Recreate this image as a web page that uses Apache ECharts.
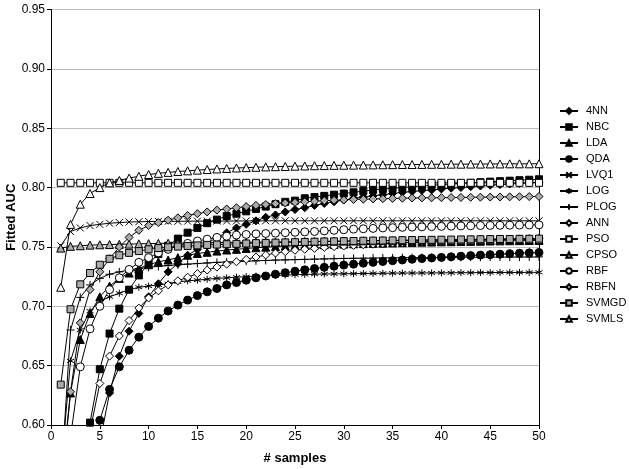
<!DOCTYPE html>
<html>
<head>
<meta charset="utf-8">
<script src="https://cdn.jsdelivr.net/npm/echarts@6/dist/echarts.min.js"></script>
<style>html,body{margin:0;padding:0;background:#fff;}#c{width:629px;height:469px;}</style>
</head>
<body>
<div id="c"></div>
<script>
var samples = [1,2,3,4,5,6,7,8,9,10,11,12,13,14,15,16,17,18,19,20,21,22,23,24,25,26,27,28,29,30,31,32,33,34,35,36,37,38,39,40,41,42,43,44,45,46,47,48,49,50];
var xTicks = [0,5,10,15,20,25,30,35,40,45,50];
var yTicks = [0.60,0.65,0.70,0.75,0.80,0.85,0.90,0.95];
var seriesNames = ['4NN','NBC','LDA','QDA','LVQ1','LOG','PLOG','ANN','PSO','CPSO','RBF','RBFN','SVMGD','SVMLS'];

var nn4 = [0.20,0.36,0.46,0.53,0.585,0.627,0.658,0.679,0.694,0.708,0.719,0.729,0.736,0.743,0.748,0.753,0.758,0.762,0.766,0.769,0.772,0.775,0.777,0.7795,0.7815,0.783,0.785,0.7866,0.788,0.7895,0.791,0.792,0.793,0.794,0.795,0.796,0.7967,0.7975,0.798,0.7988,0.7995,0.800,0.8007,0.8013,0.802,0.8025,0.803,0.8035,0.804,0.8045];
var nbc = [0.30,0.43,0.53,0.602,0.647,0.677,0.698,0.714,0.726,0.736,0.744,0.751,0.757,0.762,0.766,0.770,0.773,0.776,0.778,0.780,0.782,0.784,0.786,0.788,0.789,0.791,0.792,0.793,0.794,0.795,0.796,0.797,0.798,0.7987,0.7994,0.800,0.8007,0.8013,0.802,0.8025,0.803,0.8035,0.804,0.8045,0.805,0.8054,0.8058,0.8062,0.8066,0.807];
var lda = [0.55,0.627,0.672,0.694,0.708,0.717,0.7235,0.728,0.732,0.735,0.7375,0.739,0.741,0.743,0.7445,0.7455,0.7465,0.7474,0.748,0.7487,0.7493,0.7498,0.7503,0.7507,0.751,0.7513,0.7516,0.7519,0.7522,0.7524,0.7526,0.7528,0.753,0.7532,0.7534,0.7536,0.7538,0.754,0.7541,0.7543,0.7544,0.7546,0.7547,0.7548,0.755,0.7551,0.7552,0.7553,0.7554,0.7555];
var qda = [0.30,0.42,0.50,0.555,0.604,0.630,0.649,0.663,0.674,0.683,0.690,0.696,0.701,0.7052,0.709,0.7122,0.715,0.718,0.720,0.722,0.724,0.7255,0.727,0.7283,0.7295,0.7307,0.7318,0.7328,0.7338,0.7347,0.7355,0.7363,0.737,0.7377,0.7384,0.739,0.7396,0.7402,0.7407,0.7412,0.7417,0.7422,0.7427,0.7431,0.7435,0.7439,0.7443,0.7447,0.745,0.7453];
var lvq1 = [0.751,0.763,0.766,0.768,0.769,0.770,0.7705,0.771,0.7712,0.7714,0.7715,0.7716,0.7716,0.7717,0.7717,0.7718,0.7718,0.7718,0.7719,0.7719,0.7719,0.772,0.772,0.772,0.772,0.772,0.772,0.772,0.772,0.772,0.772,0.772,0.772,0.772,0.772,0.772,0.772,0.772,0.772,0.772,0.772,0.772,0.772,0.772,0.772,0.772,0.772,0.772,0.772,0.772];
var logr = [0.56,0.654,0.680,0.696,0.704,0.708,0.711,0.714,0.716,0.717,0.718,0.719,0.7205,0.7215,0.722,0.7228,0.7235,0.724,0.7245,0.725,0.7254,0.7257,0.726,0.7263,0.7266,0.7268,0.727,0.7272,0.7273,0.7274,0.7275,0.7276,0.7277,0.7278,0.7279,0.728,0.728,0.7281,0.7281,0.7282,0.7282,0.7283,0.7283,0.7284,0.7284,0.7285,0.7285,0.7285,0.7286,0.7286];
var plog = [0.55,0.68,0.7075,0.718,0.7235,0.727,0.729,0.7305,0.7318,0.7328,0.7336,0.7343,0.735,0.7355,0.736,0.7365,0.737,0.7373,0.7376,0.738,0.7383,0.7386,0.7389,0.7391,0.7393,0.7395,0.7397,0.7399,0.7401,0.7403,0.7404,0.7405,0.7406,0.7407,0.7408,0.7409,0.741,0.741,0.7411,0.7411,0.7412,0.7412,0.7413,0.7413,0.7414,0.7414,0.7415,0.7415,0.7415,0.7416];
var ann = [0.40,0.48,0.55,0.595,0.635,0.658,0.675,0.688,0.6985,0.707,0.713,0.718,0.7215,0.7245,0.7275,0.7305,0.733,0.7355,0.7375,0.7395,0.7415,0.7432,0.7448,0.746,0.7472,0.748,0.7488,0.7496,0.7502,0.7508,0.7513,0.7518,0.7523,0.7528,0.7532,0.7536,0.754,0.7544,0.7547,0.755,0.7553,0.7556,0.7558,0.756,0.7562,0.7564,0.7566,0.7568,0.757,0.7572];
var pso = [0.804,0.804,0.804,0.804,0.804,0.804,0.804,0.804,0.804,0.804,0.804,0.804,0.804,0.804,0.804,0.804,0.804,0.804,0.804,0.804,0.804,0.804,0.804,0.804,0.804,0.804,0.804,0.804,0.804,0.804,0.804,0.804,0.804,0.804,0.804,0.804,0.804,0.804,0.804,0.804,0.804,0.804,0.804,0.804,0.804,0.804,0.804,0.804,0.804,0.804];
var cpso = [0.749,0.7505,0.751,0.7515,0.7518,0.752,0.7522,0.7524,0.7526,0.7528,0.753,0.7531,0.7532,0.7533,0.7534,0.7535,0.7536,0.7537,0.7538,0.7539,0.754,0.7541,0.7542,0.7543,0.7544,0.7545,0.7546,0.7547,0.7548,0.7549,0.755,0.7551,0.7552,0.7553,0.7553,0.7554,0.7555,0.7556,0.7557,0.7557,0.7558,0.7559,0.7559,0.756,0.756,0.7561,0.7562,0.7562,0.7563,0.7563];
var rbf = [0.52,0.59,0.649,0.681,0.700,0.714,0.724,0.731,0.737,0.741,0.745,0.748,0.751,0.753,0.755,0.7565,0.758,0.759,0.760,0.7605,0.761,0.7613,0.7616,0.762,0.7623,0.7627,0.763,0.7635,0.764,0.7645,0.765,0.7653,0.7656,0.766,0.7662,0.7665,0.7667,0.7669,0.7671,0.7673,0.7675,0.7677,0.7678,0.768,0.7681,0.7682,0.7683,0.7684,0.7685,0.7686];
var rbfn = [0.54,0.628,0.686,0.714,0.729,0.740,0.750,0.758,0.764,0.768,0.7705,0.7725,0.7745,0.7765,0.778,0.7795,0.781,0.782,0.783,0.784,0.785,0.7857,0.7865,0.787,0.7875,0.788,0.7885,0.789,0.7893,0.7896,0.790,0.7902,0.7904,0.7906,0.7908,0.791,0.7912,0.7913,0.7914,0.7915,0.7916,0.7917,0.7918,0.7919,0.792,0.7921,0.7922,0.7923,0.7924,0.7925];
var svmgd = [0.634,0.6975,0.7185,0.728,0.735,0.740,0.743,0.745,0.7465,0.748,0.749,0.7497,0.7503,0.7508,0.7513,0.7517,0.752,0.7523,0.7526,0.7529,0.7532,0.7534,0.7536,0.7538,0.754,0.7542,0.7544,0.7546,0.7547,0.7549,0.755,0.7552,0.7553,0.7554,0.7555,0.7557,0.7558,0.7559,0.756,0.7561,0.7562,0.7563,0.7564,0.7565,0.7566,0.7567,0.7567,0.7568,0.7569,0.757];
var svmls = [0.716,0.769,0.786,0.795,0.800,0.804,0.806,0.808,0.8095,0.811,0.812,0.8128,0.8135,0.8141,0.8147,0.8152,0.8157,0.8161,0.8165,0.8168,0.8171,0.8174,0.8176,0.8178,0.818,0.8182,0.8184,0.8185,0.8187,0.8188,0.8189,0.819,0.8191,0.8192,0.8193,0.8194,0.8194,0.8195,0.8196,0.8196,0.8197,0.8197,0.8198,0.8198,0.8199,0.8199,0.82,0.82,0.82,0.8201];

var seriesValues = [nn4,nbc,lda,qda,lvq1,logr,plog,ann,pso,cpso,rbf,rbfn,svmgd,svmls];

var GREY = '#ababab';
var CROSS = 'path://M0,0L10,10M10,0L0,10';
var STAR = 'path://M5,0L5,10M0.7,2.5L9.3,7.5M9.3,2.5L0.7,7.5';
var PLUS = 'path://M5,0L5,10M0,5L10,5';
var styles = [
  {symbol:'diamond', fill:'#000', size:8},
  {symbol:'rect', fill:'#000', size:7},
  {symbol:'triangle', fill:'#000', size:8},
  {symbol:'circle', fill:'#000', size:8},
  {symbol:CROSS, fill:'rgba(0,0,0,0)', size:7},
  {symbol:STAR, fill:'rgba(0,0,0,0)', size:7},
  {symbol:PLUS, fill:'rgba(0,0,0,0)', size:8},
  {symbol:'diamond', fill:'#fff', size:8},
  {symbol:'rect', fill:'#fff', size:7},
  {symbol:'triangle', fill:GREY, size:8},
  {symbol:'circle', fill:'#fff', size:8},
  {symbol:'diamond', fill:GREY, size:8},
  {symbol:'rect', fill:GREY, size:7},
  {symbol:'triangle', fill:'#fff', size:8}
];

var series = seriesNames.map(function(name, i){
  var pts = samples.map(function(x, j){ return [x, seriesValues[i][j]]; });
  var st = styles[i];
  return {
    name: name,
    type: 'line',
    data: pts,
    symbol: st.symbol,
    symbolSize: st.size,
    showAllSymbol: true,
    clip: true,
    lineStyle: {color:'#000', width:1},
    itemStyle: {color: st.fill, borderColor:'#000', borderWidth:1},
    emphasis: {disabled:true},
    animation: false,
    z: 2 + i
  };
});

var chart = echarts.init(document.getElementById('c'), null, {renderer:'canvas'});
chart.setOption({
  backgroundColor:'#fff',
  animation:false,
  textStyle:{fontFamily:'Liberation Sans, Arial, sans-serif'},
  grid:{left:51, right:90, top:9.5, bottom:44, containLabel:false, outerBoundsMode:'none'},
  legend:{
    orient:'vertical', left:559, top:104, padding:0,
    itemWidth:18, itemHeight:7, itemGap:2,
    textStyle:{fontSize:11, color:'#000', lineHeight:14, padding:[0,0,0,3], fontFamily:'Liberation Sans, Arial, sans-serif'},
    data: seriesNames,
    selectedMode:false
  },
  xAxis:{
    type:'value', min:xTicks[0], max:xTicks[xTicks.length-1], interval:5,
    name:'# samples', nameLocation:'middle', nameGap:27, nameMoveOverlap:false,
    nameTextStyle:{fontSize:13, fontWeight:'bold', color:'#000'},
    axisLine:{show:true, onZero:false, lineStyle:{color:'#000', width:1}},
    axisTick:{show:true, length:4, lineStyle:{color:'#000'}},
    axisLabel:{fontSize:12, color:'#000', margin:6},
    splitLine:{show:false}
  },
  yAxis:[{
    type:'value', min:yTicks[0], max:yTicks[yTicks.length-1], interval:0.05,
    name:'Fitted AUC', nameLocation:'middle', nameGap:33, nameRotate:90, nameMoveOverlap:false,
    nameTextStyle:{fontSize:13, fontWeight:'bold', color:'#000'},
    axisLine:{show:true, lineStyle:{color:'#000', width:1}},
    axisTick:{show:true, length:4, lineStyle:{color:'#000'}},
    axisLabel:{fontSize:12, color:'#000', margin:6, formatter:function(v){return v.toFixed(2);}},
    splitLine:{show:true, lineStyle:{color:'#bdbdbd', width:1}}
  },{
    type:'value', position:'right', min:yTicks[0], max:yTicks[yTicks.length-1], interval:0.05,
    axisLine:{show:true, lineStyle:{color:'#000', width:1}},
    axisTick:{show:false}, axisLabel:{show:false}, splitLine:{show:false}
  }],
  series: series
});
</script>
</body>
</html>
